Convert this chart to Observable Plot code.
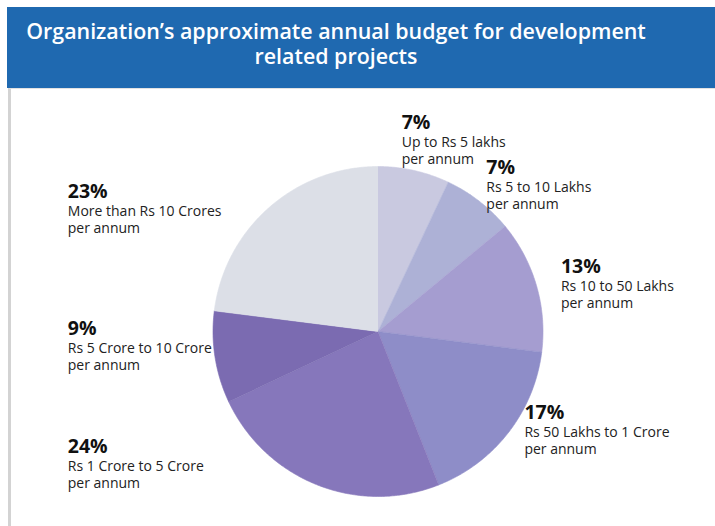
<!DOCTYPE html>
<html>
<head>
<meta charset="utf-8">
<script src="https://cdn.jsdelivr.net/npm/d3@7"></script>
<script src="https://cdn.jsdelivr.net/npm/@observablehq/plot@0.6"></script>
<style>
  html, body { margin: 0; padding: 0; background: #fff; }
  body { width: 715px; height: 526px; position: relative; overflow: hidden; font-family: "Open Sans", sans-serif; }
  #header { position: absolute; left: 7px; top: 7px; width: 708px; height: 81px; background: #1f69b0; }
  #title { position: absolute; left: 0; top: 0; width: 658px; text-align: center; color: #fff;
           font-weight: 600; font-size: 21.4px; line-height: 25px; padding-top: 11px; }
  #frame { position: absolute; left: 8px; top: 88px; width: 704px; height: 438px;
           border-left: 3px solid #d3d3d3; border-top: 1px solid #e2e2e2; }
  #chart { position: absolute; left: 0; top: 88px; }
</style>
</head>
<body>
<div id="header"><div id="title">Organization’s approximate annual budget for development<br>related projects</div></div>
<div id="frame"></div>
<div id="chart"></div>
<script>
// ---- data ----
const categories = [
  "Up to Rs 5 lakhs",
  "Rs 5 to 10 Lakhs",
  "Rs 10 to 50 Lakhs",
  "Rs 50 Lakhs to 1 Crore",
  "Rs 1 Crore to 5 Crore",
  "Rs 5 Crore to 10 Crore",
  "More than Rs 10 Crores"
];
const values = [7, 7, 13, 17, 24, 9, 23];
const suffix = "per annum";

// ---- styles / layout ----
const palette = ["#c9c9e0", "#adb1d6", "#a59dd0", "#8e8dc8", "#8677bb", "#7b6bb1", "#dcdfe7"];
const W = 715, H = 438;
const cx = 377.5, cy = 243, R = 165;   // pie centre and radius in px

const arcs = d3.pie().sort(null).value(d => d.value)(
  categories.map((c, i) => ({category: c, value: values[i]}))
);

// polygon outline of each slice in unit-radius coordinates (y up)
const slicePts = [];
arcs.forEach(a => {
  const key = a.data.category;
  slicePts.push({key, x: 0, y: 0});
  const n = Math.max(8, Math.ceil((a.endAngle - a.startAngle) / 0.01));
  for (let k = 0; k <= n; k++) {
    const t = a.startAngle + (a.endAngle - a.startAngle) * k / n;
    slicePts.push({key, x: Math.sin(t), y: Math.cos(t)});
  }
});

// label anchors derived from each slice's mid-angle
// right half: labels just outside the arc; left half: a fixed left column
const labels = arcs.map(a => {
  const mid = (a.startAngle + a.endAngle) / 2;
  const s = Math.sin(mid), c = Math.cos(mid);
  const right = mid < Math.PI;
  return {
    pct: a.data.value + "%",
    text: a.data.category + "\n" + suffix,
    x: right ? 1.3 * s - 0.14 : -1.88,
    y: right ? 1.033 * c - 0.205 * s + 0.195 : 0.92 * c + 0.053
  };
});

const chart = Plot.plot({
  width: W,
  height: H,
  margin: 0,
  style: {background: "transparent", fontFamily: "Open Sans, sans-serif", color: "#1a1a1a"},
  x: {domain: [-cx / R, (W - cx) / R], axis: null},
  y: {domain: [-(H - cy) / R, cy / R], axis: null},
  color: {domain: categories, range: palette},
  marks: [
    Plot.line(slicePts, {x: "x", y: "y", z: "key", fill: "key", stroke: "key", strokeWidth: 0.6}),
    Plot.text(labels, {
      x: "x", y: "y", text: "pct",
      textAnchor: "start", lineAnchor: "top", dy: -25,
      fontWeight: 700, fontSize: 19.5, fill: "#111"
    }),
    Plot.text(labels, {
      x: "x", y: "y", text: "text",
      textAnchor: "start", lineAnchor: "top", lineHeight: 1.2, dy: -5,
      fontSize: 14, fill: "#222"
    })
  ]
});
document.getElementById("chart").appendChild(chart);
</script>
</body>
</html>
